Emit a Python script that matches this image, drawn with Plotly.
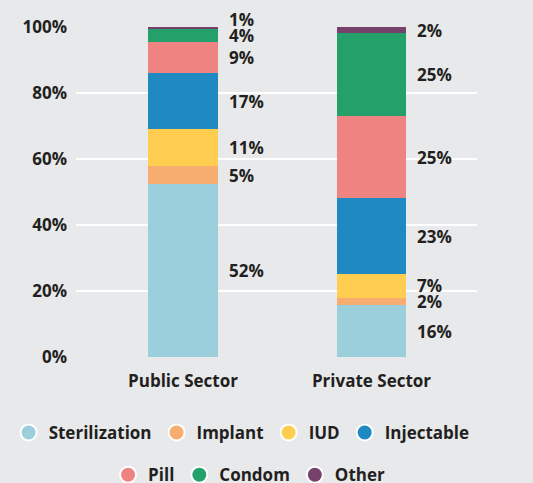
import plotly.graph_objects as go

# sectors and methods
sectors = ["Public Sector", "Private Sector"]
methods = ["Sterilization", "Implant", "IUD", "Injectable", "Pill", "Condom", "Other"]

# share of users per method (%), bottom to top
public_vals = [52.4, 5.4, 11.2, 17.0, 9.4, 3.9, 0.7]
private_vals = [15.7, 2.1, 7.3, 23.1, 24.7, 25.2, 1.9]

# printed labels
public_labels = ["52%", "5%", "11%", "17%", "9%", "4%", "1%"]
private_labels = ["16%", "2%", "7%", "23%", "25%", "25%", "2%"]

y_ticks = [0, 20, 40, 60, 80, 100]
y_ticktext = ["0%", "20%", "40%", "60%", "80%", "100%"]

colors = ["#9bcfdb", "#f6ad6f", "#ffcd50", "#1f89c1", "#ef8381", "#24a16b", "#76416b"]

ink = "#231f20"
bg = "#e8e9eb"
font = "Open Sans"
bar_w = 0.37

fig = go.Figure()

for i, m in enumerate(methods):
    fig.add_trace(go.Bar(
        x=[0, 1], y=[public_vals[i], private_vals[i]],
        width=bar_w, marker=dict(color=colors[i], line=dict(width=0)),
        name=m, showlegend=False, hoverinfo="skip",
    ))
    # circle swatch for the legend
    fig.add_trace(go.Scatter(
        x=[None], y=[None], mode="markers", name=m,
        marker=dict(symbol="circle", size=16, color=colors[i],
                    line=dict(color="white", width=2)),
        legend="legend" if i < 4 else "legend2",
    ))


def label_positions(vals, gap=5.0):
    # put each label at the middle of its segment, pushed up to avoid overlaps
    out, base, prev = [], 0, -100
    for v in vals:
        mid = base + v / 2
        y = max(mid, prev + gap)
        out.append(y)
        prev = y
        base += v
    return out


for xi, (vals, labs) in enumerate([(public_vals, public_labels), (private_vals, private_labels)]):
    for y, t in zip(label_positions(vals), labs):
        fig.add_annotation(
            x=xi + bar_w / 2, y=y / 100, yref="paper", text=t, showarrow=False,
            xanchor="left", yanchor="middle", xshift=9,
            font=dict(family=font, size=17, color=ink, weight="bold"),
        )

legend_style = dict(
    orientation="h", xanchor="left", yanchor="middle", traceorder="normal",
    font=dict(family=font, size=17, color=ink, weight="bold"),
    bgcolor="rgba(0,0,0,0)", itemclick=False, itemdoubleclick=False,
)

fig.update_layout(
    width=533, height=483,
    barmode="stack",
    paper_bgcolor=bg, plot_bgcolor=bg,
    margin=dict(l=76, r=56, t=27, b=126, autoexpand=False),
    font=dict(family=font, color=ink),
    xaxis=dict(
        range=[-0.568, 1.56], tickvals=[0, 1], ticktext=sectors,
        showgrid=False, zeroline=False, showline=False, ticks="",
        tickfont=dict(family=font, size=17, color=ink, weight="bold"),
        ticklabelstandoff=12,
    ),
    yaxis=dict(
        range=[0, 100], tickvals=y_ticks, ticktext=y_ticktext,
        showgrid=True, gridcolor="white", gridwidth=2,
        zeroline=False, showline=False, ticks="",
        tickfont=dict(family=font, size=17, color=ink, weight="bold"),
        ticklabelstandoff=8,
    ),
    legend=dict(x=-0.168, y=-0.23, **legend_style),
    legend2=dict(x=0.08, y=-0.358, **legend_style),
)

fig.write_html("out.html", config={"displayModeBar": False},
               post_script="document.body.style.margin='0';")
